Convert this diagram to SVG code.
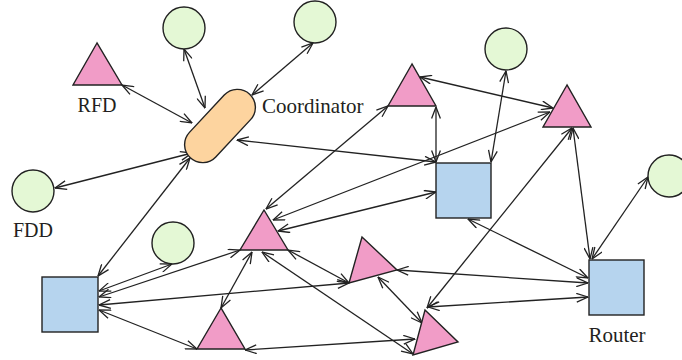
<svg xmlns="http://www.w3.org/2000/svg" width="682" height="360" viewBox="0 0 682 360">
  <defs>
    <marker id="arr" viewBox="0 0 13 10" refX="12.5" refY="5" markerWidth="13" markerHeight="10" markerUnits="userSpaceOnUse" orient="auto-start-reverse">
      <path d="M1,0.6 L12.5,5 L1,9.4" fill="none" stroke="#222" stroke-width="1.3"/>
    </marker>
    <style>
      .node { stroke: #222; stroke-width: 1.4; }
      .fdd { fill: #E4F8D5; }
      .rfd { fill: #F19CC7; }
      .router { fill: #B6D4EE; }
      .coord { fill: #FDD49F; }
      .lbl { font-family: "Liberation Serif", "Times New Roman", serif; font-size: 20px; fill: #231F20; }
      .big { font-size: 21px; }
      .link { stroke: #222; stroke-width: 1.3; fill: none; marker-start: url(#arr); marker-end: url(#arr); }
    </style>
  </defs>
  <rect width="682" height="360" fill="#fff"/>

  <!-- links -->
  <g id="links">
    <line class="link" x1="122" y1="85" x2="192" y2="123"/>
    <line class="link" x1="184" y1="49" x2="205" y2="108"/>
    <line class="link" x1="313" y1="43" x2="252" y2="95"/>
    <line class="link" x1="55" y1="188" x2="192" y2="153"/>
    <line class="link" x1="98" y1="276" x2="190" y2="158"/>
    <line class="link" x1="237" y1="140" x2="436" y2="162"/>
    <line class="link" x1="388" y1="106" x2="266" y2="209"/>
    <line class="link" x1="436" y1="107" x2="436" y2="162"/>
    <line class="link" x1="420" y1="77" x2="553" y2="108"/>
    <line class="link" x1="550" y1="112" x2="273" y2="220"/>
    <line class="link" x1="436" y1="192" x2="278" y2="231"/>
    <line class="link" x1="506" y1="71" x2="491" y2="162"/>
    <line class="link" x1="573" y1="128" x2="590" y2="259"/>
    <line class="link" x1="572" y1="128" x2="427" y2="308"/>
    <line class="link" x1="648" y1="177" x2="592" y2="259"/>
    <line class="link" x1="468" y1="219" x2="588" y2="278"/>
    <line class="link" x1="397" y1="270" x2="588" y2="283"/>
    <line class="link" x1="428" y1="307" x2="588" y2="297"/>
    <line class="link" x1="288" y1="250" x2="349" y2="283"/>
    <line class="link" x1="378" y1="277" x2="422" y2="323"/>
    <line class="link" x1="262" y1="252" x2="413" y2="354"/>
    <line class="link" x1="252" y1="252" x2="221" y2="308"/>
    <line class="link" x1="99" y1="297" x2="240" y2="250"/>
    <line class="link" x1="99" y1="291" x2="172" y2="264"/>
    <line class="link" x1="99" y1="305" x2="349" y2="283"/>
    <line class="link" x1="99" y1="310" x2="197" y2="349"/>
    <line class="link" x1="245" y1="350" x2="415" y2="339"/>
  </g>

  <!-- coordinator -->
  <g id="coordinator">
    <rect class="node coord" x="-43.5" y="-18" width="87" height="36" rx="18" transform="translate(220 126) rotate(-47)"/>
    <text class="lbl big" x="262" y="113">Coordinator</text>
  </g>

  <!-- reduced-function devices -->
  <g id="rfd1">
    <polygon class="node rfd" points="97,43 73,85 122,85"/>
    <text class="lbl" x="97" y="112" text-anchor="middle">RFD</text>
  </g>
  <g id="rfd2"><polygon class="node rfd" points="412,64 388,106 436,106"/></g>
  <g id="rfd3"><polygon class="node rfd" points="567,85 543,127 591,127"/></g>
  <g id="rfd4"><polygon class="node rfd" points="264,210 240,250 288,250"/></g>
  <g id="rfd5"><polygon class="node rfd" points="362,237 397,270 349,283"/></g>
  <g id="rfd6"><polygon class="node rfd" points="221,308 197,349 245,349"/></g>
  <g id="rfd7"><polygon class="node rfd" points="425,310 458,342 413,355"/></g>

  <!-- full-function devices -->
  <g id="fdd1"><circle class="node fdd" cx="184" cy="28" r="21"/></g>
  <g id="fdd2"><circle class="node fdd" cx="315" cy="22" r="21"/></g>
  <g id="fdd3"><circle class="node fdd" cx="506" cy="49" r="21"/></g>
  <g id="fdd4"><circle class="node fdd" cx="669" cy="176" r="21"/></g>
  <g id="fdd5">
    <circle class="node fdd" cx="33" cy="191" r="21"/>
    <text class="lbl" x="33" y="237" text-anchor="middle">FDD</text>
  </g>
  <g id="fdd6"><circle class="node fdd" cx="173" cy="243" r="21"/></g>

  <!-- routers -->
  <g id="router1"><rect class="node router" x="42" y="277" width="56" height="55"/></g>
  <g id="router2"><rect class="node router" x="436" y="163" width="55" height="55"/></g>
  <g id="router3">
    <rect class="node router" x="589" y="260" width="55" height="55"/>
    <text class="lbl big" x="617" y="342" text-anchor="middle">Router</text>
  </g>
</svg>
